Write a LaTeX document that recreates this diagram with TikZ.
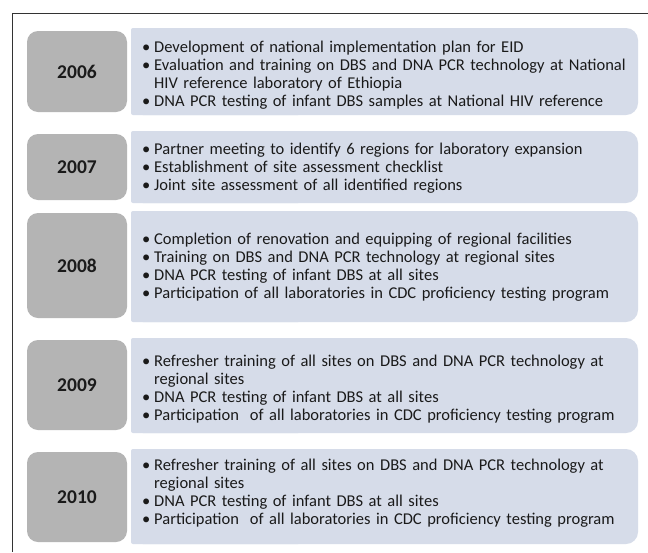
\documentclass[tikz,border=0pt]{standalone}
\usepackage{fontspec}
\setmainfont{Carlito}
\definecolor{yeargray}{HTML}{B4B4B4}
\definecolor{boxblue}{HTML}{D6DCE9}
\definecolor{txt}{HTML}{1A1A1A}
\definecolor{framec}{HTML}{333333}
\newcommand\bitem[1]{\par\hangindent=12pt\hangafter=1\noindent\makebox[12pt][l]{\textbullet}#1}
\begin{document}
\begin{tikzpicture}[x=1pt,y=-1pt,
  yearbox/.style={fill=yeargray, rounded corners=11pt, text=txt,
    font=\fontsize{19.5}{22}\selectfont\bfseries, inner sep=0pt, minimum width=100pt},
  itemtext/.style={anchor=west, text width=500pt, align=left, inner sep=0pt,
    font=\fontsize{16.5}{18}\selectfont, text=txt},
  bluefill/.style={fill=boxblue}]
\useasboundingbox (0,0) rectangle (648,552);
\fill[white] (0,0) rectangle (648,552);
\draw[line width=1pt, framec] (648,13) -- (12,13) -- (12,552);
% blue boxes
\foreach \t/\b in {28/115,131/203,211/322,338/433,449/544}{
  \fill[boxblue, rounded corners=12pt] (131,\t) rectangle (638,\b);
  \fill[boxblue, rounded corners=2pt] (131,\t) rectangle (300,\b);
}
% year boxes
\node[yearbox, minimum height=81pt] (y2006) at (77,71.5) {2006};
\node[yearbox, minimum height=66pt] (y2007) at (77,167) {2007};
\node[yearbox, minimum height=105pt] (y2008) at (77,265.5) {2008};
\node[yearbox, minimum height=90pt] (y2009) at (77,385) {2009};
\node[yearbox, minimum height=90pt] (y2010) at (77,497) {2010};
% texts
\node[itemtext] (t2006) at (142,72) {%
\bitem{Development of national implementation plan for EID}
\bitem{Evaluation and training on DBS and DNA PCR technology at National\newline HIV reference laboratory of Ethiopia}
\bitem{DNA PCR testing of infant DBS samples at National HIV reference}};
\node[itemtext] (t2007) at (142,165) {%
\bitem{Partner meeting to identify 6 regions for laboratory expansion}
\bitem{Establishment of site assessment checklist}
\bitem{Joint site assessment of all identified regions}};
\node[itemtext] (t2008) at (142,264) {%
\bitem{Completion of renovation and equipping of regional facilities}
\bitem{Training on DBS and DNA PCR technology at regional sites}
\bitem{DNA PCR testing of infant DBS at all sites}
\bitem{Participation of all laboratories in CDC proficiency testing program}};
\node[itemtext] (t2009) at (142,385.5) {%
\bitem{Refresher training of all sites on DBS and DNA PCR technology at\newline regional sites}
\bitem{DNA PCR testing of infant DBS at all sites}
\bitem{Participation\ \ of all laboratories in CDC proficiency testing program}};
\node[itemtext] (t2010) at (142,489.5) {%
\bitem{Refresher training of all sites on DBS and DNA PCR technology at\newline regional sites}
\bitem{DNA PCR testing of infant DBS at all sites}
\bitem{Participation\ \ of all laboratories in CDC proficiency testing program}};
\end{tikzpicture}
\end{document}
